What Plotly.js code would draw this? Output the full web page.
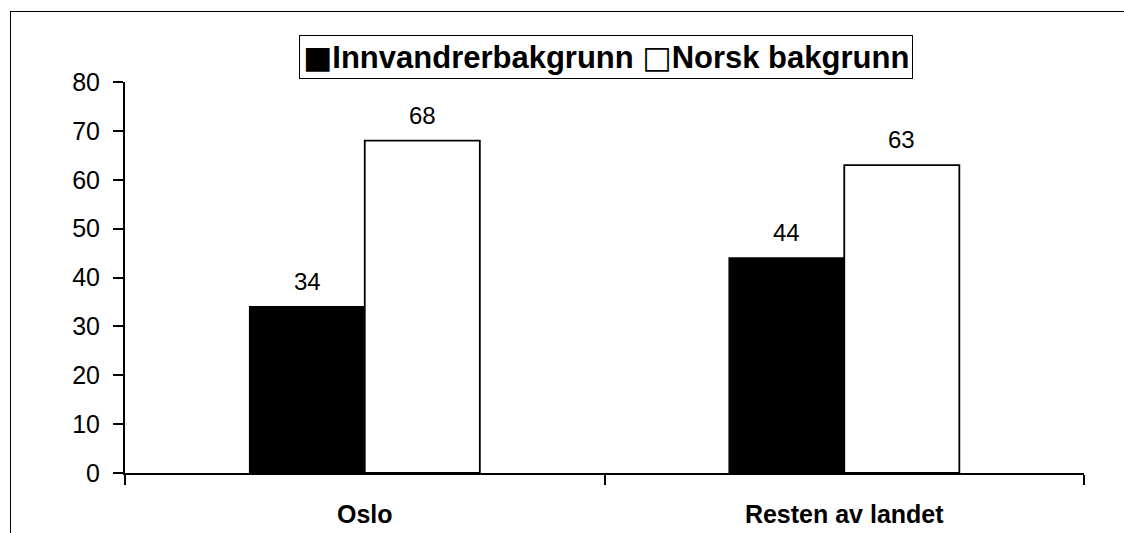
<!DOCTYPE html>
<html>
<head>
<meta charset="utf-8">
<script src="https://cdn.plot.ly/plotly-3.0.1.min.js"></script>
<style>
  html, body { margin: 0; padding: 0; background: #fff; }
  #wrap { position: relative; width: 1124px; height: 533px; overflow: hidden; }
  #chart { position: absolute; left: 0; top: 0; width: 1124px; height: 533px; }
  #frame { position: absolute; left: 10px; top: 11px; width: 1200px; height: 600px;
           border-left: 1px solid #000; border-top: 1px solid #000; pointer-events: none; }
</style>
</head>
<body>
<div id="wrap">
  <div id="chart"></div>
  <div id="frame"></div>
</div>
<script>
const categories = ["Oslo", "Resten av landet"];
const innvandrer = [34, 44];
const norsk = [68, 63];
const seriesNames = ["Innvandrerbakgrunn", "Norsk bakgrunn"];
const yTicks = [0, 10, 20, 30, 40, 50, 60, 70, 80];

const FONT = "Liberation Sans, Arial, Helvetica, sans-serif";

const traces = [
  {
    type: "bar", name: seriesNames[0], x: categories, y: innvandrer,
    marker: { color: "#000000", line: { color: "#000000", width: 1.5 } },
    hoverinfo: "skip", showlegend: false
  },
  {
    type: "bar", name: seriesNames[1], x: categories, y: norsk,
    marker: { color: "#ffffff", line: { color: "#000000", width: 1.8 } },
    hoverinfo: "skip", showlegend: false
  }
];

const annotations = [];
categories.forEach((c, i) => {
  annotations.push({ x: c, y: innvandrer[i], text: String(innvandrer[i]), showarrow: false,
    xref: "x", yref: "y", yanchor: "bottom", xshift: -57.5, yshift: 10,
    font: { family: FONT, size: 24, color: "#000" } });
  annotations.push({ x: c, y: norsk[i], text: String(norsk[i]), showarrow: false,
    xref: "x", yref: "y", yanchor: "bottom", xshift: 57.5, yshift: 10,
    font: { family: FONT, size: 24, color: "#000" } });
});

// Legend box (drawn as a bordered text box, as in the original chart)
annotations.push({
  xref: "paper", yref: "paper", x: 0.5, y: 1, xshift: 1, yshift: 25.5,
  xanchor: "center", yanchor: "middle", showarrow: false,
  text: "<span style='font-family:DejaVu Sans'>\u25A0</span>" + seriesNames[0] +
        " <span style='font-family:DejaVu Sans'>\u25A1</span>" + seriesNames[1],
  font: { family: FONT, size: 31, color: "#000", weight: "bold" },
  bordercolor: "#000", borderwidth: 1, borderpad: 3, bgcolor: "#fff"
});

const layout = {
  width: 1124, height: 533,
  margin: { l: 125, r: 40, t: 82, b: 60, pad: 0 },
  paper_bgcolor: "rgba(0,0,0,0)", plot_bgcolor: "#ffffff",
  barmode: "group", bargap: 0.52, bargroupgap: 0,
  showlegend: false,
  xaxis: {
    type: "category", showline: true, linecolor: "#000", linewidth: 2,
    ticks: "outside", tickson: "boundaries", ticklen: 10, tickwidth: 2, tickcolor: "#000",
    showgrid: false, zeroline: false, ticklabelstandoff: 18,
    tickfont: { family: FONT, size: 25, color: "#000", weight: "bold" }
  },
  yaxis: {
    range: [0, 80], tickvals: yTicks, ticktext: yTicks.map(String),
    showline: true, linecolor: "#000", linewidth: 2,
    ticks: "outside", ticklen: 10, tickwidth: 2, tickcolor: "#000",
    showgrid: false, zeroline: false, ticklabelstandoff: 8,
    tickfont: { family: FONT, size: 25, color: "#000" }
  },
  annotations: annotations
};

Plotly.newPlot("chart", traces, layout, { staticPlot: true, displayModeBar: false });
</script>
</body>
</html>
